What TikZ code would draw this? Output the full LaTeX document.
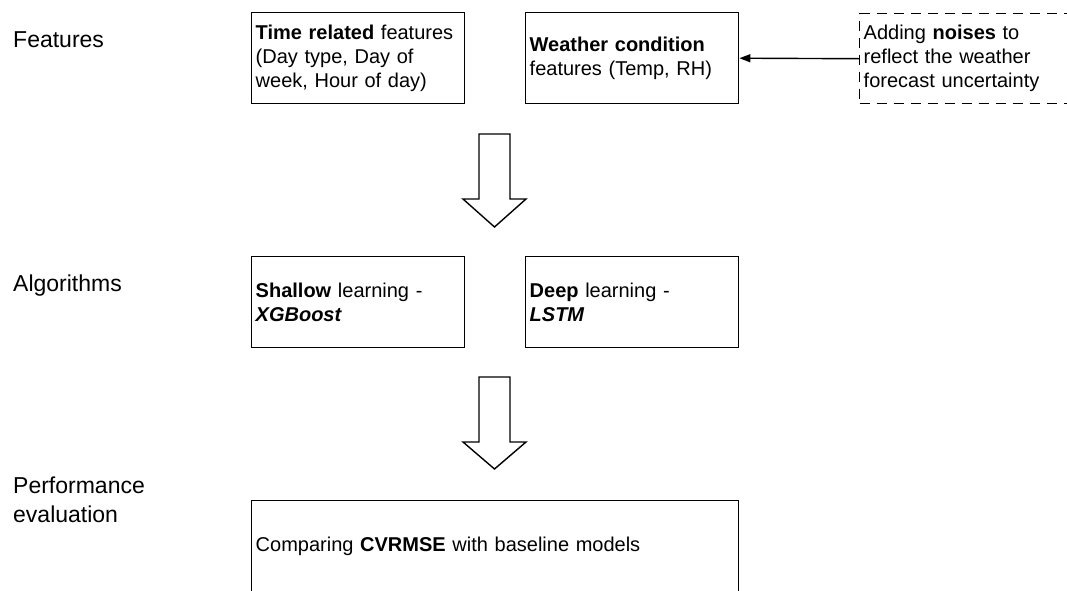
\documentclass[tikz,border=0pt]{standalone}
\usepackage{fontspec}
\setmainfont{Liberation Sans}
\usetikzlibrary{arrows.meta}
\begin{document}
\begin{tikzpicture}[x=1pt,y=-1pt,
 box/.style={draw, line width=1.4pt, minimum width=213pt, minimum height=91pt, text width=205pt, inner xsep=4pt, inner ysep=0pt, align=left, font=\fontsize{20}{24}\selectfont, anchor=north west},
 lab/.style={font=\fontsize{23}{29}\selectfont, align=left, anchor=base west, inner sep=0pt},
 blockarrow/.style={draw, line width=1.4pt, fill=white, line join=miter}]
\useasboundingbox (0,0) rectangle (1067,590);
\clip (0,0) rectangle (1067,590);
% labels
\node[lab] (featlab) at (13,47) {Features};
\node[lab] (alglab) at (13,291) {Algorithms};
\node[lab] (perflab) at (13,522) {Performance\\evaluation};
% feature boxes
\node[box] (time) at (251,12) {\textbf{Time related} features\\(Day type, Day of\\week, Hour of day)};
\node[box] (weather) at (525,12) {\textbf{Weather condition}\\features (Temp, RH)};
\node[box, dash pattern=on 10pt off 7pt, minimum height=90pt, minimum width=300pt, text width=292pt] (noise) at (859,13) {Adding \textbf{noises} to\\reflect the weather\\forecast uncertainty};
\draw[-{Triangle[length=11pt,width=8pt]}, line width=1.4pt] (noise.west) -- (weather.east);
% algorithm boxes
\node[box] (shallow) at (251,256) {\textbf{Shallow} learning -\\\textbf{\textit{XGBoost}}};
\node[box] (deep) at (525,256) {\textbf{Deep} learning -\\\textbf{\textit{LSTM}}};
% evaluation box
\node[box, minimum width=487pt, text width=479pt] (compare) at (251,500) {Comparing \textbf{CVRMSE} with baseline models};
% block arrows
\draw[blockarrow] (479,134) -- (510,134) -- (510,199) -- (526,199) -- (494.5,227) -- (463,199) -- (479,199) -- cycle;
\draw[blockarrow] (479,377) -- (510,377) -- (510,442) -- (526,442) -- (494.5,469) -- (463,442) -- (479,442) -- cycle;
\end{tikzpicture}
\end{document}
